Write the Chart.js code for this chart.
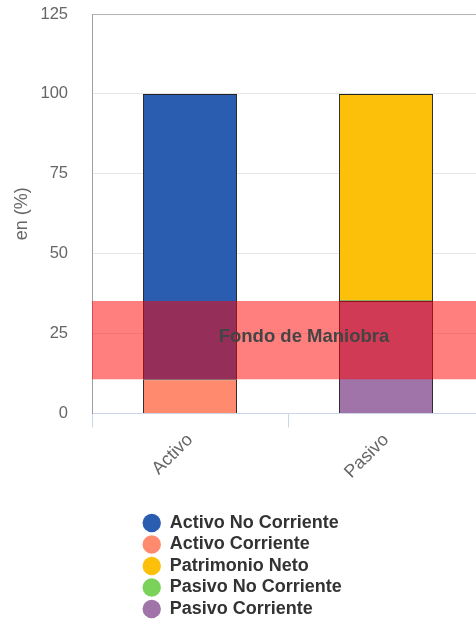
<!DOCTYPE html>
<html>
<head>
<meta charset="utf-8">
<script src="https://cdn.jsdelivr.net/npm/chart.js@4.4.1/dist/chart.umd.min.js"></script>
<style>
    html, body { margin: 0; padding: 0; overflow: hidden; background: #fff; }
    #wrap { width: 484px; height: 628px; }
</style>
</head>
<body>
<div id="wrap"><canvas id="balanceChart"></canvas></div>
<script>
const categories = ['Activo', 'Pasivo'];
const seriesNames = ['Activo No Corriente', 'Activo Corriente', 'Patrimonio Neto', 'Pasivo No Corriente', 'Pasivo Corriente'];
const activoNoCorriente = [89.3, null];
const activoCorriente = [10.7, null];
const patrimonioNeto = [null, 64.5];
const pasivoNoCorriente = [null, 0.3];
const pasivoCorriente = [null, 35.2];
const yTicks = [0, 25, 50, 75, 100, 125];

const seriesColors = ['#2a5db0', '#ff8a6d', '#fdc00a', '#7ad25a', '#a074a8'];
const stackOrder = [2, 1, 3, 2, 1];
const bandLabel = 'Fondo de Maniobra';

Chart.defaults.font.family = '"Liberation Sans", Arial, sans-serif';

// Fondo de maniobra: entre el activo corriente y el pasivo corriente
const bandFrom = activoCorriente[0];
const bandTo = pasivoCorriente[1];

const fondoManiobra = {
    id: 'fondoManiobra',
    afterDatasetsDraw(chart) {
        const { ctx, chartArea, scales: { y } } = chart;
        const top = y.getPixelForValue(bandTo);
        const bottom = y.getPixelForValue(bandFrom);
        ctx.save();
        ctx.fillStyle = 'rgba(255, 0, 0, 0.5)';
        ctx.fillRect(chartArea.left, top, chartArea.right - chartArea.left, bottom - top);
        ctx.fillStyle = '#444';
        ctx.font = 'bold 18.5px "Liberation Sans", Arial, sans-serif';
        ctx.textAlign = 'center';
        ctx.textBaseline = 'middle';
        ctx.fillText(bandLabel, (chartArea.left + chartArea.right) / 2 + 16, (top + bottom) / 2 - 3);
        ctx.restore();
    }
};

// one legend item per row, left aligned as a centred block
const legendRows = {
    id: 'legendRows',
    beforeLayout(chart) {
        const legend = chart.legend;
        if (!legend || legend._oneRowEach) return;
        legend._oneRowEach = true;

        const fitRows = legend._fitRows;
        legend._fitRows = function (...args) {
            const maxWidth = this.maxWidth;
            this.maxWidth = 0;
            const h = fitRows.apply(this, args);
            this.maxWidth = maxWidth;
            const widest = Math.max(...this.lineWidths);
            this.lineWidths = this.lineWidths.map(() => widest);
            return h;
        };

        const draw = legend._draw;
        legend._draw = function (...args) {
            const left = this.left;
            const right = this.right;
            const pad = this.options.labels.padding;
            const widest = Math.max(...this.lineWidths);
            const x0 = (left + right - widest) / 2 + 2;
            this.left = x0 - pad;
            this.right = x0 + widest;
            draw.apply(this, args);
            this.left = left;
            this.right = right;
        };
    }
};

const seriesData = [activoNoCorriente, activoCorriente, patrimonioNeto, pasivoNoCorriente, pasivoCorriente];

new Chart(document.getElementById('balanceChart'), {
    type: 'bar',
    data: {
        labels: categories,
        datasets: seriesNames.map((name, i) => ({
            label: name,
            data: seriesData[i],
            backgroundColor: seriesColors[i],
            borderColor: '#222',
            borderWidth: 1,
            order: stackOrder[i],
            categoryPercentage: 1,
            barPercentage: 0.48
        }))
    },
    options: {
        responsive: true,
        maintainAspectRatio: false,
        animation: false,
        layout: { padding: { top: 14, right: 0, left: 0, bottom: 0 } },
        plugins: {
            tooltip: { enabled: false },
            legend: {
                position: 'bottom',
                labels: {
                    usePointStyle: true,
                    pointStyle: 'circle',
                    boxWidth: 18,
                    boxHeight: 13,
                    padding: 3.5,
                    color: '#333',
                    font: { size: 18, weight: 'bold' },
                    sort: (a, b) => a.datasetIndex - b.datasetIndex,
                    generateLabels: chart => Chart.defaults.plugins.legend.labels.generateLabels(chart)
                        .map(item => ({ ...item, lineWidth: 0, strokeStyle: item.fillStyle }))
                }
            }
        },
        scales: {
            x: {
                stacked: true,
                grid: { offset: true, drawOnChartArea: false, color: '#ccd6eb', tickLength: 14 },
                border: { color: '#ccd6eb' },
                ticks: { color: '#666', font: { size: 18 }, minRotation: 45, maxRotation: 45, padding: 2, autoSkip: false },
                afterFit(scale) { scale.height = 97; }
            },
            y: {
                stacked: true,
                min: yTicks[0],
                max: yTicks[yTicks.length - 1],
                afterBuildTicks(scale) { scale.ticks = yTicks.map(v => ({ value: v })); },
                grid: {
                    drawTicks: false,
                    color: ctx => ctx.tick && ctx.tick.value === yTicks[yTicks.length - 1] ? '#b4b4b4' : '#e6e6e6'
                },
                border: { color: '#a0a0a0' },
                ticks: { color: '#666', font: { size: 16.5 }, padding: 24 },
                title: { display: true, text: 'en (%)', color: '#666', font: { size: 18 }, padding: { top: 11 } },
                afterFit(scale) {
                    scale.width = 92;
                    scale.paddingTop = 0;
                    scale.paddingBottom = 0;
                }
            }
        }
    },
    plugins: [fondoManiobra, legendRows]
});
</script>
</body>
</html>
